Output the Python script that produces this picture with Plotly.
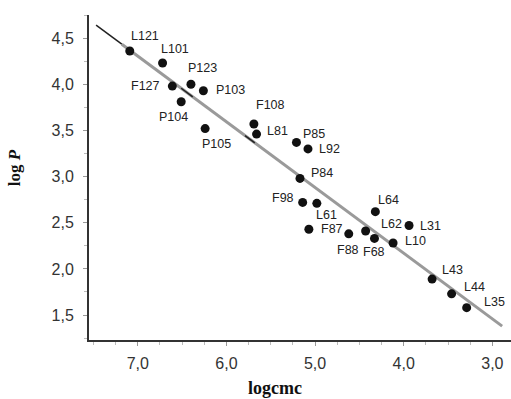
import numpy as np
import plotly.graph_objects as go

# ---- data ----
names = ["L121", "L101", "P123", "P103", "F127", "P104", "P105", "F108", "L81",
         "P85", "L92", "P84", "F98", "L61", "L64", "L62", "L31", "F87", "F88",
         "F68", "L10", "L43", "L44", "L35"]
logcmc = [7.09, 6.72, 6.40, 6.26, 6.61, 6.51, 6.24, 5.69, 5.66,
          5.21, 5.08, 5.17, 5.14, 4.98, 4.32, 4.43, 3.94, 5.07, 4.62,
          4.33, 4.12, 3.68, 3.46, 3.29]
logP = [4.36, 4.23, 4.00, 3.93, 3.98, 3.81, 3.52, 3.57, 3.46,
        3.37, 3.30, 2.98, 2.72, 2.71, 2.62, 2.41, 2.47, 2.43, 2.38,
        2.33, 2.28, 1.89, 1.73, 1.58]
fit_x = [7.47, 2.89]
fit_y = [4.64, 1.38]
dark_x_ranges = [(7.47, 7.18), (6.51, 6.38), (5.79, 5.68)]

x_ticks = [7.0, 6.0, 5.0, 4.0, 3.0]
x_ticktext = ["7,0", "6,0", "5,0", "4,0", "3,0"]
y_ticks = [1.5, 2.0, 2.5, 3.0, 3.5, 4.0, 4.5]
y_ticktext = ["1,5", "2,0", "2,5", "3,0", "3,5", "4,0", "4,5"]

# ---- label placement (anchor, xshift, yshift in px) ----
label_pos = {
    "L121": ("left", -1, 15), "L101": ("left", -4, 14), "P123": ("left", -5, 16),
    "P103": ("left", 11, 1), "F127": ("right", -10, 0), "P104": ("center", -8, -15),
    "P105": ("center", 11, -15), "F108": ("left", 0, 19), "L81": ("left", 8, 3),
    "P85": ("left", 5, 8), "L92": ("left", 9, 0), "P84": ("left", 9, 5),
    "F98": ("right", -7, 4), "L61": ("left", -3, -12), "L64": ("left", 1, 12),
    "L62": ("left", 13, 7), "L31": ("left", 9, 0), "F87": ("left", 10, 0),
    "F88": ("center", -1, -16), "F68": ("center", 0, -14), "L10": ("left", 10, 2),
    "L43": ("left", 8, 9), "L44": ("left", 10, 7), "L35": ("left", 15, 6),
}

fx = np.array(fit_x)[::-1]
fy = np.array(fit_y)[::-1]

fig = go.Figure()
# gray regression line (starts where the dark top stroke ends)
gx = [dark_x_ranges[0][1], fit_x[1]]
gy = list(np.interp(gx, fx, fy))
fig.add_trace(go.Scatter(x=gx, y=gy, mode="lines",
                         line=dict(color="#9a9a9a", width=3), hoverinfo="skip"))
for a, b in dark_x_ranges:
    xs = [a, b]
    ys = list(np.interp(xs, fx, fy))
    fig.add_trace(go.Scatter(x=xs, y=ys, mode="lines",
                             line=dict(color="#222222", width=1.5), hoverinfo="skip"))
fig.add_trace(go.Scatter(x=logcmc, y=logP, mode="markers",
                         marker=dict(color="#111111", size=9), text=names))

annotations = []
for n, xv, yv in zip(names, logcmc, logP):
    anc, dx, dy = label_pos[n]
    annotations.append(dict(x=xv, y=yv, text=n, showarrow=False, xanchor=anc,
                            yanchor="middle", xshift=dx, yshift=dy,
                            font=dict(family="Liberation Sans, Arial", size=12.5, color="#222")))
annotations.append(dict(xref="paper", yref="paper", x=(275 - 89) / 422, y=-0.148,
                        text="<b>logcmc</b>", showarrow=False, xanchor="center", yanchor="middle",
                        font=dict(family="Liberation Serif, Times New Roman", size=18, color="#111")))
annotations.append(dict(xref="paper", yref="paper", x=-0.175, y=(340 - 168) / 325,
                        text="<b>log <i>P</i></b>", showarrow=False, textangle=-90,
                        xanchor="center", yanchor="middle",
                        font=dict(family="Liberation Serif, Times New Roman", size=17, color="#111")))

fig.update_layout(
    width=511, height=399,
    margin=dict(l=89, r=0, t=15, b=59),
    paper_bgcolor="white", plot_bgcolor="white",
    showlegend=False,
    annotations=annotations,
    xaxis=dict(range=[7.55, 2.79], tickvals=x_ticks, ticktext=x_ticktext,
               showgrid=False, zeroline=False, showline=True, linecolor="#333", linewidth=2,
               ticks="outside", ticklen=4, tickcolor="#999", ticklabelstandoff=4,
               minor=dict(dtick=0.25, tick0=3.0, ticks="outside", ticklen=3, tickcolor="#bbb"),
               tickfont=dict(family="Liberation Sans, Arial", size=16, color="#333")),
    yaxis=dict(range=[1.23, 4.75], tickvals=y_ticks, ticktext=y_ticktext,
               showgrid=False, zeroline=False, showline=True, linecolor="#333", linewidth=2,
               ticks="outside", ticklen=4, tickcolor="#999", ticklabelstandoff=6,
               minor=dict(dtick=0.25, tick0=1.5, ticks="outside", ticklen=3, tickcolor="#bbb"),
               tickfont=dict(family="Liberation Sans, Arial", size=16, color="#333")),
)

fig.write_html("out.html", config={"displayModeBar": False},
               post_script="document.body.style.margin='0';document.body.style.overflow='hidden';")
